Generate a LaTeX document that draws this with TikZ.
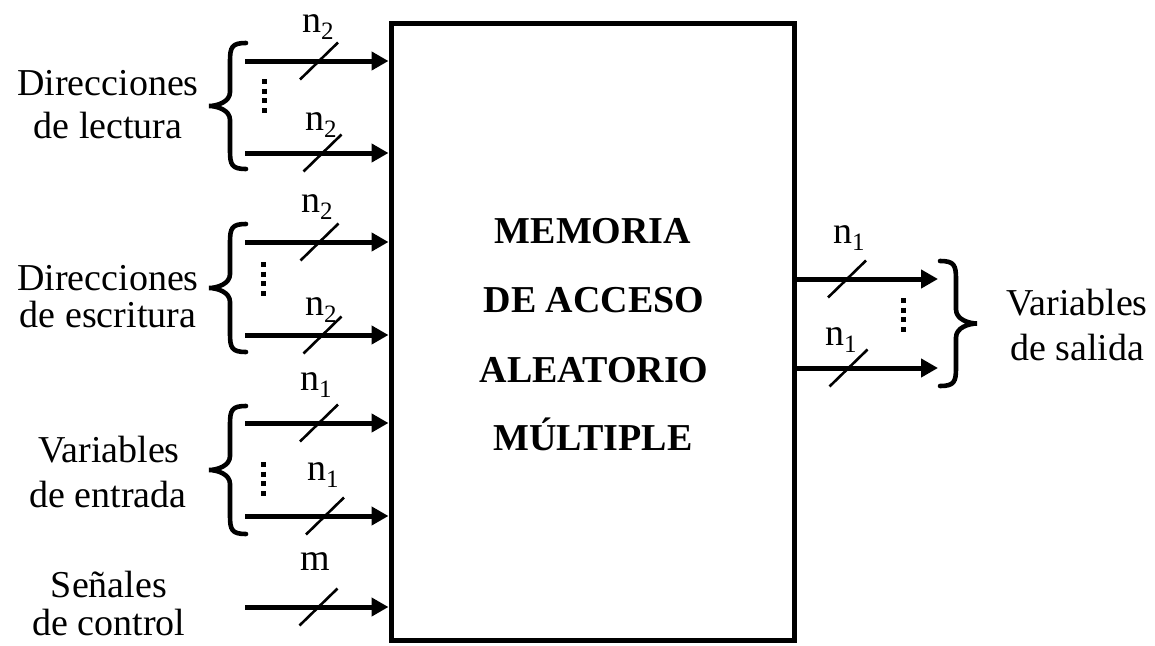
\documentclass[tikz,border=0pt]{standalone}
\usepackage{fontspec}
\setmainfont{Liberation Serif}
\usetikzlibrary{arrows.meta}
\newcommand\nsub[1]{n\raisebox{-7pt}{\fontsize{25}{25}\selectfont #1}}
\newcommand\slashat[2]{\draw[slashline] ({#1-19},{#2+18.5}) -- ({#1+19},{#2-18.5});}
\newcommand\braceL[3]{% end x, top, bottom
  \draw[bracepath] (#1,#2) .. controls ({#1-14},#2) and ({#1-16},{#2+4}) .. ({#1-16},{#2+18})
    -- ({#1-16},{(#2+#3)/2-14}) .. controls ({#1-16},{(#2+#3)/2-4}) and ({#1-29},{(#2+#3)/2}) .. ({#1-37},{(#2+#3)/2})
    .. controls ({#1-29},{(#2+#3)/2}) and ({#1-16},{(#2+#3)/2+4}) .. ({#1-16},{(#2+#3)/2+14})
    -- ({#1-16},{#3-18}) .. controls ({#1-16},{#3-4}) and ({#1-14},#3) .. (#1,#3);}
\newcommand\braceR[3]{% end x, top, bottom
  \draw[bracepath] (#1,#2) .. controls ({#1+14},#2) and ({#1+16},{#2+4}) .. ({#1+16},{#2+18})
    -- ({#1+16},{(#2+#3)/2-14}) .. controls ({#1+16},{(#2+#3)/2-4}) and ({#1+29},{(#2+#3)/2}) .. ({#1+37},{(#2+#3)/2})
    .. controls ({#1+29},{(#2+#3)/2}) and ({#1+16},{(#2+#3)/2+4}) .. ({#1+16},{(#2+#3)/2+14})
    -- ({#1+16},{#3-18}) .. controls ({#1+16},{#3-4}) and ({#1+14},#3) .. (#1,#3);}
\begin{document}
\begin{tikzpicture}[x=1pt,y=-1pt,
  every node/.style={inner sep=0pt, outer sep=0pt, font=\fontsize{38}{44}\selectfont},
  txt/.style={anchor=base},
  lab/.style={anchor=base west},
  bold/.style={anchor=base, font=\fontsize{38}{44}\selectfont\bfseries},
  arr/.style={line width=5pt, -{Triangle[length=17pt,width=18pt]}},
  slashline/.style={line width=2.6pt},
  bracepath/.style={line width=4.6pt, line cap=round},
  dotcol/.style={line width=5pt, dash pattern=on 5pt off 4.7pt}
]
\useasboundingbox (0,0) rectangle (1155,645);
% main box
\node[draw, line width=5pt, outer sep=2.5pt, minimum width=403pt, minimum height=617pt] (box) at (592.5,331.5) {};
\node[bold] (t1) at (593,243) {MEMORIA};
\node[bold] (t2) at (594,312) {DE ACCESO};
\node[bold] (t3) at (594,382) {ALEATORIO};
\node[bold] (t4) at (593,450) {MÚLTIPLE};

% input arrows
\coordinate (a1) at (245,61);
\coordinate (a2) at (245,153);
\coordinate (a3) at (245,242);
\coordinate (a4) at (245,335);
\coordinate (a5) at (245,423);
\coordinate (a6) at (245,516);
\coordinate (a7) at (245,607);
\foreach \a in {a1,a2,a3,a4,a5,a6,a7} \draw[arr] (\a) -- (\a -| box.west);

% output arrows
\coordinate (o1) at (938,279);
\coordinate (o2) at (938,368);
\draw[arr] (o1 -| box.east) -- (o1);
\draw[arr] (o2 -| box.east) -- (o2);

% slashes
\slashat{319}{61}
\slashat{322.5}{153}
\slashat{319.5}{242}
\slashat{322.5}{335}
\slashat{319}{423}
\slashat{325}{516}
\slashat{318.5}{607}
\slashat{847}{279}
\slashat{848.5}{368}

% width labels
\node[lab] (l1) at (302,32) {\nsub{2}};
\node[lab] (l2) at (305,130) {\nsub{2}};
\node[lab] (l3) at (301,212) {\nsub{2}};
\node[lab] (l4) at (305,315) {\nsub{2}};
\node[lab] (l5) at (300,390) {\nsub{1}};
\node[lab] (l6) at (307,480) {\nsub{1}};
\node[lab] (l7) at (300,570) {m};
\node[lab] (l8) at (833,243) {\nsub{1}};
\node[lab] (l9) at (825,345) {\nsub{1}};

% vertical dots
\draw[dotcol] (264.5,79) -- (264.5,114);
\draw[dotcol] (263.5,262) -- (263.5,297);
\draw[dotcol] (263.5,462) -- (263.5,497);
\draw[dotcol] (903.5,298) -- (903.5,333);

% braces
\braceL{246}{43}{169}
\braceL{246}{224}{352}
\braceL{246}{406}{534}
\braceR{940}{261}{386}

% group labels
\node[txt] (g1a) at (108,95) {Direcciones};
\node[txt] (g1b) at (108,138) {de lectura};
\node[txt] (g2a) at (108,290) {Direcciones};
\node[txt] (g2b) at (108,327) {de escritura};
\node[txt] (g3a) at (109,462) {Variables};
\node[txt] (g3b) at (108,507) {de entrada};
\node[txt] (g4a) at (109,597) {Señales};
\node[txt] (g4b) at (109,635) {de control};
\node[txt] (g5a) at (1077,315) {Variables};
\node[txt] (g5b) at (1077,360) {de salida};
\end{tikzpicture}
\end{document}
